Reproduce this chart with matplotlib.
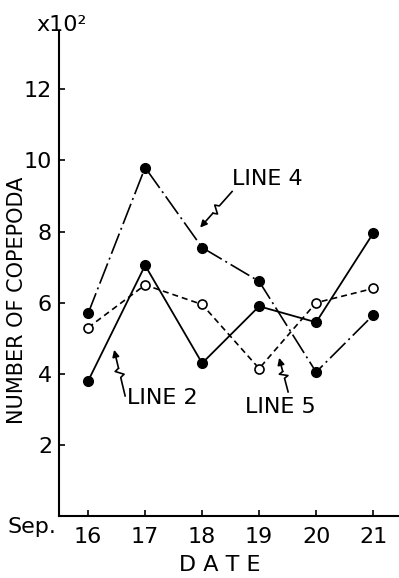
import numpy as np
import matplotlib
matplotlib.use('Agg')
from matplotlib import pyplot as plt

dates = [16, 17, 18, 19, 20, 21]
line2 = [3.8, 7.05, 4.3, 5.9, 5.45, 7.95]   # solid, filled
line4 = [5.7, 9.8, 7.55, 6.6, 4.05, 5.65]   # dash-dot, filled
line5 = [5.3, 6.5, 5.95, 4.15, 6.0, 6.4]    # dashed, open
yticks = [2, 4, 6, 8, 10, 12]

plt.rcParams['font.family'] = ['DejaVu Sans']

fig = plt.figure(figsize=(3.99, 5.78), dpi=100)
ax = fig.add_axes([0.148, 0.107, 0.85, 0.837])

ax.plot(dates, line4, color='black', lw=1.2, dashes=[13, 2.5, 1.2, 2.5],
        marker='o', ms=7, mfc='black', mec='black')
ax.plot(dates, line2, color='black', lw=1.3, ls='-',
        marker='o', ms=7, mfc='black', mec='black')
ax.plot(dates, line5, color='black', lw=1.2, dashes=[3.6, 2.4],
        marker='o', ms=6.5, mfc='white', mec='black', mew=1.2)

ax.set_xlim(15.49, 21.44)
ax.set_ylim(0, 13.6)
ax.set_xticks(dates)
ax.set_yticks(yticks)
ax.tick_params(direction='in', length=4, width=1.2, labelsize=16)
ax.tick_params(axis='x', pad=8)
ax.tick_params(axis='y', pad=5)
for s in ['top', 'right']:
    ax.spines[s].set_visible(False)
for s in ['left', 'bottom']:
    ax.spines[s].set_linewidth(1.5)

ax.set_ylabel('NUMBER OF COPEPODA', fontsize=15)
ax.yaxis.set_label_coords(-0.094, 0.446)
fig.text(0.55, 0.022, 'D A T E', fontsize=16, ha='center', va='center')
fig.text(0.02, 0.089, 'Sep.', fontsize=16, ha='left', va='center')
fig.text(0.09, 0.957, 'x10²', fontsize=16, ha='left', va='center')

def px(x, y):
    return 16 + (x - 88) / 57.0, (516 - y) / 35.5

def squiggle(start, end):
    x1, y1 = px(*end)
    dx, dy = end[0] - start[0], end[1] - start[1]
    n = np.hypot(dx, dy)
    ox, oy = -dy / n * 4, dx / n * 4
    pts = [start,
           (start[0] + dx * 0.4, start[1] + dy * 0.4),
           (start[0] + dx * 0.45 + ox, start[1] + dy * 0.45 + oy),
           (start[0] + dx * 0.55 - ox, start[1] + dy * 0.55 - oy),
           (start[0] + dx * 0.6, start[1] + dy * 0.6)]
    xs, ys = zip(*[px(*p) for p in pts])
    ax.plot(xs, ys, color='black', lw=1.2)
    ax.annotate('', xy=(x1, y1), xytext=(xs[-1], ys[-1]),
                arrowprops=dict(arrowstyle='-|>', color='black', lw=1.2,
                                mutation_scale=10, shrinkA=0, shrinkB=0))

squiggle((232, 192), (200, 228))
squiggle((125, 396), (114, 350))
squiggle((288, 392), (279, 358))

lx, ly = px(232, 180)
ax.text(lx, ly, 'LINE 4', fontsize=16, ha='left', va='center')
lx, ly = px(127, 398)
ax.text(lx, ly, 'LINE 2', fontsize=16, ha='left', va='center')
lx, ly = px(245, 407)
ax.text(lx, ly, 'LINE 5', fontsize=16, ha='left', va='center')

fig.savefig('out.png', dpi=100)
